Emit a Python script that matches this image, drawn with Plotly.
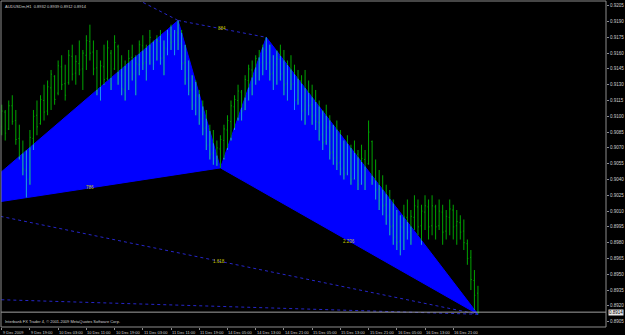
import plotly.graph_objects as go

# ---------------- data ----------------
highs = [0.9111, 0.9106, 0.9115, 0.9120, 0.9106, 0.9092, 0.9077, 0.9068, 0.9087, 0.9106,
         0.9115, 0.9120, 0.9130, 0.9134, 0.9144, 0.9139, 0.9153, 0.9158, 0.9149, 0.9163,
         0.9168, 0.9158, 0.9172, 0.9163, 0.9177, 0.9187, 0.9172, 0.9163, 0.9153, 0.9168,
         0.9172, 0.9163, 0.9177, 0.9168, 0.9158, 0.9153, 0.9163, 0.9168, 0.9158, 0.9172,
         0.9177, 0.9168, 0.9182, 0.9172, 0.9177, 0.9182, 0.9172, 0.9182, 0.9187, 0.9182,
         0.9191, 0.9182, 0.9168, 0.9153, 0.9139, 0.9134, 0.9125, 0.9115, 0.9106, 0.9092,
         0.9087, 0.9077, 0.9082, 0.9092, 0.9101, 0.9115, 0.9120, 0.9130, 0.9125, 0.9139,
         0.9149, 0.9153, 0.9158, 0.9163, 0.9168, 0.9175, 0.9168, 0.9158, 0.9163, 0.9168,
         0.9163, 0.9153, 0.9158, 0.9149, 0.9144, 0.9139, 0.9144, 0.9134, 0.9130, 0.9125,
         0.9115, 0.9106, 0.9111, 0.9101, 0.9092, 0.9096, 0.9087, 0.9077, 0.9082, 0.9073,
         0.9077, 0.9068, 0.9073, 0.9068, 0.9096, 0.9077, 0.9059, 0.9049, 0.9044, 0.9035,
         0.9030, 0.9021, 0.9011, 0.9006, 0.9016, 0.9021, 0.9011, 0.9025, 0.9021, 0.9016,
         0.9025, 0.9021, 0.9025, 0.9016, 0.9021, 0.9016, 0.9011, 0.9021, 0.9016, 0.9011,
         0.9006, 0.9002, 0.8983, 0.8973, 0.8954, 0.8939]
lows = [0.9082, 0.9077, 0.9087, 0.9092, 0.9073, 0.9059, 0.9044, 0.9023, 0.9035, 0.9068,
        0.9082, 0.9092, 0.9096, 0.9101, 0.9106, 0.9111, 0.9120, 0.9125, 0.9115, 0.9130,
        0.9134, 0.9130, 0.9139, 0.9125, 0.9144, 0.9153, 0.9139, 0.9120, 0.9115, 0.9130,
        0.9134, 0.9125, 0.9144, 0.9130, 0.9120, 0.9115, 0.9125, 0.9134, 0.9120, 0.9139,
        0.9144, 0.9134, 0.9149, 0.9144, 0.9153, 0.9149, 0.9139, 0.9158, 0.9163, 0.9158,
        0.9163, 0.9144, 0.9130, 0.9120, 0.9106, 0.9101, 0.9092, 0.9082, 0.9068, 0.9059,
        0.9054, 0.9053, 0.9051, 0.9059, 0.9068, 0.9077, 0.9087, 0.9096, 0.9096, 0.9106,
        0.9115, 0.9120, 0.9130, 0.9134, 0.9139, 0.9144, 0.9134, 0.9125, 0.9130, 0.9134,
        0.9120, 0.9115, 0.9125, 0.9106, 0.9111, 0.9096, 0.9092, 0.9101, 0.9092, 0.9087,
        0.9077, 0.9068, 0.9073, 0.9059, 0.9054, 0.9049, 0.9044, 0.9040, 0.9044, 0.9035,
        0.9040, 0.9030, 0.9035, 0.9030, 0.9054, 0.9035, 0.9021, 0.9011, 0.9006, 0.8997,
        0.8987, 0.8978, 0.8973, 0.8968, 0.8973, 0.8983, 0.8978, 0.8992, 0.8987, 0.8978,
        0.8992, 0.8983, 0.8987, 0.8983, 0.8992, 0.8978, 0.8983, 0.8987, 0.8983, 0.8978,
        0.8983, 0.8973, 0.8959, 0.8935, 0.8916, 0.8912]
opens = [0.9090, 0.9104, 0.9088, 0.9110, 0.9096, 0.9079, 0.9064, 0.9049, 0.9041, 0.9079,
         0.9101, 0.9093, 0.9115, 0.9105, 0.9127, 0.9138, 0.9122, 0.9147, 0.9131, 0.9132,
         0.9157, 0.9141, 0.9150, 0.9145, 0.9158, 0.9171, 0.9161, 0.9146, 0.9126, 0.9147,
         0.9136, 0.9160, 0.9145, 0.9166, 0.9139, 0.9125, 0.9145, 0.9156, 0.9141, 0.9149,
         0.9167, 0.9151, 0.9158, 0.9170, 0.9155, 0.9171, 0.9156, 0.9164, 0.9177, 0.9171,
         0.9179, 0.9169, 0.9151, 0.9136, 0.9125, 0.9111, 0.9119, 0.9098, 0.9089, 0.9073,
         0.9065, 0.9061, 0.9069, 0.9077, 0.9087, 0.9095, 0.9109, 0.9115, 0.9123, 0.9106,
         0.9134, 0.9144, 0.9139, 0.9154, 0.9151, 0.9163, 0.9151, 0.9141, 0.9149, 0.9154,
         0.9141, 0.9131, 0.9144, 0.9131, 0.9116, 0.9134, 0.9106, 0.9124, 0.9111, 0.9101,
         0.9094, 0.9083, 0.9076, 0.9089, 0.9066, 0.9061, 0.9056, 0.9051, 0.9046, 0.9069,
         0.9041, 0.9064, 0.9036, 0.9059, 0.9055, 0.9076, 0.9041, 0.9031, 0.9021, 0.9016,
         0.9006, 0.8996, 0.8986, 0.8981, 0.8994, 0.9004, 0.8991, 0.9004, 0.9014, 0.8996,
         0.9009, 0.9014, 0.8996, 0.9014, 0.8996, 0.9009, 0.8991, 0.9004, 0.9011, 0.8996,
         0.8999, 0.8991, 0.8979, 0.8966, 0.8944, 0.8932]
closes = [0.9105, 0.9084, 0.9110, 0.9095, 0.9078, 0.9063, 0.9050, 0.9040, 0.9080, 0.9100,
          0.9090, 0.9116, 0.9104, 0.9128, 0.9140, 0.9116, 0.9148, 0.9130, 0.9120, 0.9158,
          0.9140, 0.9152, 0.9144, 0.9160, 0.9172, 0.9160, 0.9145, 0.9125, 0.9148, 0.9135,
          0.9165, 0.9130, 0.9170, 0.9138, 0.9126, 0.9146, 0.9155, 0.9140, 0.9150, 0.9168,
          0.9150, 0.9160, 0.9175, 0.9150, 0.9172, 0.9155, 0.9165, 0.9178, 0.9170, 0.9180,
          0.9168, 0.9150, 0.9135, 0.9124, 0.9110, 0.9120, 0.9097, 0.9088, 0.9072, 0.9064,
          0.9060, 0.9070, 0.9078, 0.9088, 0.9096, 0.9110, 0.9116, 0.9124, 0.9105, 0.9135,
          0.9145, 0.9138, 0.9155, 0.9150, 0.9164, 0.9150, 0.9140, 0.9150, 0.9155, 0.9140,
          0.9130, 0.9145, 0.9130, 0.9115, 0.9135, 0.9105, 0.9125, 0.9110, 0.9100, 0.9095,
          0.9082, 0.9075, 0.9090, 0.9065, 0.9060, 0.9055, 0.9050, 0.9045, 0.9070, 0.9040,
          0.9065, 0.9035, 0.9060, 0.9050, 0.9085, 0.9040, 0.9030, 0.9020, 0.9015, 0.9005,
          0.8995, 0.8985, 0.8980, 0.8995, 0.9005, 0.8990, 0.9005, 0.9015, 0.8995, 0.9010,
          0.9015, 0.8995, 0.9015, 0.8995, 0.9010, 0.8990, 0.9005, 0.9012, 0.8995, 0.9000,
          0.8990, 0.8980, 0.8965, 0.8945, 0.8930, 0.8914]
bar_index = list(range(len(highs)))

time_tick_index = [0, 8, 16, 24, 32, 40, 48, 56, 64, 72, 80, 88, 96, 104, 112, 120, 128]
time_tick_labels = ["9 Dec 2009", "9 Dec 19:00", "10 Dec 03:00", "10 Dec 11:00", "10 Dec 19:00",
                    "11 Dec 03:00", "11 Dec 11:00", "11 Dec 19:00", "14 Dec 05:00", "14 Dec 13:00",
                    "14 Dec 21:00", "15 Dec 05:00", "15 Dec 13:00", "15 Dec 21:00", "16 Dec 05:00",
                    "16 Dec 13:00", "16 Dec 21:00"]

price_ticks = [0.8905, 0.8920, 0.8935, 0.8950, 0.8965, 0.8980, 0.8995, 0.9010, 0.9025, 0.9040,
               0.9055, 0.9070, 0.9085, 0.9100, 0.9115, 0.9130, 0.9145, 0.9160, 0.9175, 0.9190,
               0.9205]
price_range = [0.88999, 0.92095]
index_range = [-0.2, 171.3]

# harmonic pattern pivots X A B C D
pivot_names = ["X", "A", "B", "C", "D"]
pivot_index = [-12, 50, 62, 75, 135]
pivot_price = [0.9013, 0.9191, 0.9051, 0.9175, 0.8912]

ratio_labels = ["786", "884", "2.236", "1.618"]
ratio_from = ["X", "A", "B", "X"]
ratio_to = ["B", "C", "D", "D"]

lead_line_index = [28, 50]
lead_line_price = [0.9229, 0.9191]
base_line_index = [-12, 135]
base_line_price = [0.8927, 0.8912]

current_price = 0.8914
header_text = "AUDUSDm,H1  0.8932 0.8939 0.8912 0.8914"
copyright_text = "Interbank FX Trader 4, © 2001-2009 MetaQuotes Software Corp."

# ---------------- style ----------------
BAR_GREEN = "#00a400"
BAR_ON_BLUE = "#1a8cff"
FILL_BLUE = "#0000ff"
EDGE_BLUE = "#0000ff"
DOT_BLUE = "#2626c8"
AXIS_GRAY = "#8c8c8c"
TEXT = "#d0d0d0"
RATIO_COL = "#c8c800"
FONT = "Liberation Sans, Arial, sans-serif"

P = {n: (i, p) for n, i, p in zip(pivot_names, pivot_index, pivot_price)}
triangles = [["X", "A", "B"], ["B", "C", "D"]]

fig = go.Figure()

fig.add_trace(go.Ohlc(
    x=bar_index, open=opens, high=highs, low=lows, close=closes,
    increasing=dict(line=dict(color=BAR_GREEN, width=1)),
    decreasing=dict(line=dict(color=BAR_GREEN, width=1)),
    tickwidth=0.25, hoverinfo="skip", showlegend=False,
))


# parts of the bars lying over the filled triangles look inverted (XOR drawing)
def tri_span(tri, x):
    pts = [P[n] for n in tri]
    ys = []
    for (x0, y0), (x1, y1) in zip(pts, pts[1:] + pts[:1]):
        if x0 != x1 and min(x0, x1) <= x <= max(x0, x1):
            ys.append(y0 + (y1 - y0) * (x - x0) / (x1 - x0))
    if len(ys) < 2:
        return None
    return min(ys), max(ys)


seg_x, seg_y = [], []
for i, h, l in zip(bar_index, highs, lows):
    for tri in triangles:
        span = tri_span(tri, i)
        if span is None:
            continue
        lo, hi = max(l, span[0]), min(h, span[1])
        if hi > lo:
            seg_x += [i, i, None]
            seg_y += [lo, hi, None]
fig.add_trace(go.Scatter(x=seg_x, y=seg_y, mode="lines", hoverinfo="skip", showlegend=False,
                         line=dict(color=BAR_ON_BLUE, width=1)))


def dotted(xs, ys):
    fig.add_trace(go.Scatter(x=xs, y=ys, mode="lines", hoverinfo="skip", showlegend=False,
                             line=dict(color=DOT_BLUE, width=1, dash="dot")))


dotted([P["A"][0], P["C"][0]], [P["A"][1], P["C"][1]])
dotted([P["X"][0], P["D"][0]], [P["X"][1], P["D"][1]])
dotted(lead_line_index, lead_line_price)
dotted(base_line_index, base_line_price)

shapes = []
for tri in triangles:
    path = "M " + " L ".join(f"{P[n][0]},{P[n][1]}" for n in tri) + " Z"
    shapes.append(dict(type="path", path=path, xref="x", yref="y", layer="below",
                       fillcolor=FILL_BLUE, line=dict(color=EDGE_BLUE, width=1)))
shapes.append(dict(type="line", xref="paper", yref="y", x0=0, x1=1,
                   y0=current_price, y1=current_price, layer="above",
                   line=dict(color="#a0a0a0", width=1)))
shapes.append(dict(type="rect", xref="paper", yref="paper", x0=0, x1=1, y0=0, y1=1,
                   line=dict(color=AXIS_GRAY, width=1), layer="above"))

annotations = []
for lab, a, b in zip(ratio_labels, ratio_from, ratio_to):
    annotations.append(dict(x=(P[a][0] + P[b][0]) / 2, y=(P[a][1] + P[b][1]) / 2,
                            xref="x", yref="y", text=lab, showarrow=False,
                            font=dict(family=FONT, size=4.5, color=RATIO_COL)))
for ti, tl in zip(time_tick_index, time_tick_labels):
    annotations.append(dict(x=ti, y=0, xref="x", yref="paper", text=tl, showarrow=False,
                            xanchor="left", yanchor="top", yshift=-1, xshift=-1,
                            font=dict(family=FONT, size=4, color=TEXT)))
annotations.append(dict(x=0, y=1, xref="paper", yref="paper", text=header_text,
                        showarrow=False, xanchor="left", yanchor="top", xshift=2, yshift=-1,
                        font=dict(family=FONT, size=4, color=TEXT)))
annotations.append(dict(x=0, y=0, xref="paper", yref="paper", text=copyright_text,
                        showarrow=False, xanchor="left", yanchor="bottom", xshift=2, yshift=1,
                        font=dict(family=FONT, size=4, color=TEXT)))
annotations.append(dict(x=1, y=current_price, xref="paper", yref="y", text=f"{current_price:.4f}",
                        showarrow=False, xanchor="left", yanchor="middle", xshift=2,
                        bgcolor="#e8e8e8", borderpad=0,
                        font=dict(family=FONT, size=4.5, color="#000000")))

fig.update_layout(
    width=625, height=335,
    margin=dict(l=1, r=17, t=1, b=8),
    paper_bgcolor="#000000", plot_bgcolor="#000000",
    shapes=shapes, annotations=annotations,
    showlegend=False,
    xaxis=dict(range=index_range, showgrid=False, zeroline=False, showticklabels=False,
               tickvals=time_tick_index, ticks="outside", ticklen=2, tickcolor=AXIS_GRAY,
               showline=False, rangeslider=dict(visible=False), fixedrange=True),
    yaxis=dict(range=price_range, side="right", showgrid=False, zeroline=False,
               tickvals=price_ticks, ticktext=[f"{v:.4f}" for v in price_ticks],
               ticks="outside", ticklen=2, tickcolor=AXIS_GRAY,
               tickfont=dict(family=FONT, size=4.5, color=TEXT),
               showline=False, fixedrange=True),
)

fig.write_html("out.html")
